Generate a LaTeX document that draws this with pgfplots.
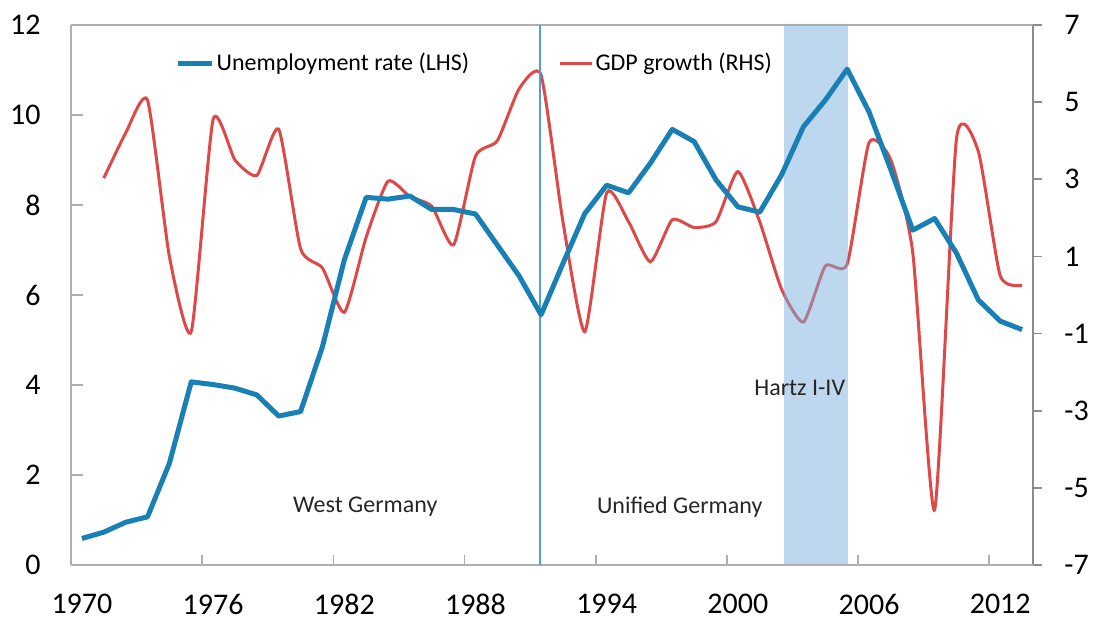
\documentclass[border=0pt]{standalone}
\usepackage{fontspec}
\setmainfont{Carlito}
\usepackage{pgfplots}
\pgfplotsset{compat=1.18}
\definecolor{unemp}{RGB}{24,128,180}
\definecolor{gdp}{RGB}{222,72,72}
\definecolor{band}{RGB}{123,175,221}
\definecolor{vline}{RGB}{80,160,215}
\definecolor{axgray}{RGB}{175,175,175}
\definecolor{axdark}{RGB}{140,140,140}

\pgfplotstableread{
year val
1970 0.59
1971 0.73
1972 0.95
1973 1.07
1974 2.26
1975 4.07
1976 4.01
1977 3.93
1978 3.78
1979 3.31
1980 3.41
1981 4.85
1982 6.78
1983 8.17
1984 8.13
1985 8.20
1986 7.90
1987 7.90
1988 7.80
1989 7.11
1990 6.42
1991 5.56
1992 6.70
1993 7.81
1994 8.44
1995 8.27
1996 8.93
1997 9.68
1998 9.41
1999 8.56
2000 7.96
2001 7.84
2002 8.67
2003 9.74
2004 10.33
2005 11.02
2006 10.07
2007 8.78
2008 7.44
2009 7.70
2010 6.93
2011 5.89
2012 5.42
2013 5.23
}\unemptable

\pgfplotstableread{
year val
1971 3.03
1972 4.20
1973 5.05
1974 1.00
1975 -0.95
1976 4.55
1977 3.50
1978 3.10
1979 4.30
1980 1.20
1981 0.70
1982 -0.45
1983 1.50
1984 2.95
1985 2.55
1986 2.30
1987 1.30
1988 3.60
1989 4.00
1990 5.35
1991 5.70
1992 1.90
1993 -0.95
1994 2.65
1995 1.90
1996 0.86
1997 1.95
1998 1.75
1999 1.90
2000 3.20
2001 1.90
2002 0.15
2003 -0.70
2004 0.75
2005 0.80
2006 3.95
2007 3.50
2008 1.10
2009 -5.57
2010 4.05
2011 3.72
2012 0.50
2013 0.25
}\gdptable

\begin{document}
\begin{tikzpicture}
\pgfplotsset{
  common/.style={
    width=481pt, height=270pt, scale only axis, at={(0,0)}, anchor=south west,
    xmin=1969.5, xmax=2013.5, clip=true,
    /pgf/number format/assume math mode=true,
    ticklabel style={font=\fontsize{15}{15}\selectfont, text=black},
  }
}
% right axis: GDP growth
\begin{axis}[common,
  ymin=-7, ymax=7, ytick={-7,-5,...,7},
  axis y line*=right, axis x line*=top, xtick=\empty,
  tick align=outside, major tick length=4.5pt,
  y axis line style={axdark, line width=0.8pt},
  x axis line style={axgray, line width=0.8pt},
  ytick style={axdark, line width=0.8pt},
  yticklabel style={anchor=west, inner sep=0pt, xshift=11pt},
  legend style={at={(rel axis cs:0.506,0.9296)}, anchor=west, draw=none, fill=none,
    inner sep=0pt, font=\fontsize{12}{14}\selectfont, nodes={inner sep=1.2pt}},
  legend image code/.code={\draw[#1] (0pt,0pt) -- (16pt,0pt);},
]
\addplot[gdp, line width=1.5pt, smooth, tension=0.35] table[x=year, y=val] {\gdptable};
\addlegendentry{GDP growth (RHS)}
\fill[band, opacity=0.5] (axis cs:2002.1,-7) rectangle (axis cs:2005.05,7);
\end{axis}
% left axis: unemployment
\begin{axis}[common, name=main,
  ymin=0, ymax=12, ytick={0,2,...,12},
  axis y line*=left, axis x line*=bottom,
  xtick={1970,1976,...,2012},
  minor xtick={1975.5,1981.5,...,2011.5},
  xticklabel style={/pgf/number format/1000 sep={}, inner sep=0pt, yshift=-14.5pt, anchor=north},
  tick align=inside, major tick length=6pt, minor tick length=5pt,
  major x tick style={draw=none},
  minor x tick style={axgray, line width=0.8pt},
  ytick style={axgray, line width=0.8pt},
  axis line style={axgray, line width=0.8pt},
  yticklabel style={anchor=east, inner sep=0pt, xshift=-15pt},
  legend style={at={(rel axis cs:0.108,0.9296)}, anchor=west, draw=none, fill=none,
    inner sep=0pt, font=\fontsize{12}{14}\selectfont, nodes={inner sep=1.2pt}},
  legend image code/.code={\draw[#1] (0pt,0pt) -- (17pt,0pt);},
]
\draw[vline, line width=0.6pt] (axis cs:1990.95,0) -- (axis cs:1990.95,12);
\addplot[unemp, line width=2.5pt, line join=round] table[x=year, y=val] {\unemptable};
\addlegendentry{Unemployment rate (LHS)}
\node[font=\fontsize{12}{14}\selectfont, text=black!85] at (axis cs:1982.96,1.30) {West Germany};
\node[font=\fontsize{12}{14}\selectfont, text=black!85] at (axis cs:1997.34,1.29) {Unified Germany};
\node[font=\fontsize{12}{14}\selectfont, text=black!85] at (axis cs:2002.83,3.93) {Hartz I-IV};
\end{axis}
\pgfresetboundingbox
\path ([shift={(-35.5pt,-28pt)}]main.south west) rectangle ([shift={(30.5pt,12.5pt)}]main.north east);
\end{tikzpicture}
\end{document}
